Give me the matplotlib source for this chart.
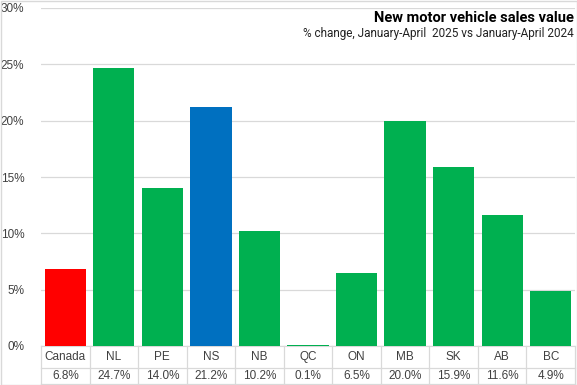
import matplotlib.pyplot as plt
from matplotlib.patches import Rectangle
from matplotlib.ticker import PercentFormatter

regions = ['Canada', 'NL', 'PE', 'NS', 'NB', 'QC', 'ON', 'MB', 'SK', 'AB', 'BC']
change = [6.8, 24.7, 14.0, 21.2, 10.2, 0.1, 6.5, 20.0, 15.9, 11.6, 4.9]
colors = ['#ff0000', '#00b050', '#00b050', '#0070c0', '#00b050', '#00b050',
          '#00b050', '#00b050', '#00b050', '#00b050', '#00b050']

plt.rcParams['font.family'] = ['Liberation Sans', 'DejaVu Sans']

fig = plt.figure(figsize=(5.77, 3.85), dpi=100)
W, H = 577, 385
ax = fig.add_axes([41 / W, (385 - 346) / H, (575 - 41) / W, (346 - 8) / H])

x = range(len(regions))
ax.bar(x, change, width=0.85, color=colors, zorder=3)

ax.set_xlim(-0.5, len(regions) - 0.5)
ax.set_ylim(0, 30)
ax.set_yticks(range(0, 31, 5))
ax.yaxis.set_major_formatter(PercentFormatter(decimals=0))
ax.tick_params(axis='y', length=0, pad=12, labelsize=8.5, labelcolor='#404040')
ax.set_xticks([])
ax.grid(axis='y', color='#d9d9d9', linewidth=0.9, zorder=0)
for s in ['left', 'right', 'top']:
    ax.spines[s].set_visible(False)
ax.spines['bottom'].set_color('#d9d9d9')
ax.spines['bottom'].set_zorder(1)

# data table under the axis
tr = ax.get_xaxis_transform()
row1 = -(368 - 346) / 338
row2 = -(384 - 346) / 338
line_kw = dict(color='#d9d9d9', linewidth=0.9, transform=tr, clip_on=False)
for i in range(len(regions) + 1):
    ax.plot([i - 0.5, i - 0.5], [0, row2], **line_kw)
ax.plot([-0.5, len(regions) - 0.5], [row1, row1], **line_kw)
ax.plot([-0.5, len(regions) - 0.5], [row2, row2], **line_kw)
for i, (r, v) in enumerate(zip(regions, change)):
    ax.text(i, row1 / 2, r, transform=tr, ha='center', va='center',
            fontsize=8.5, color='#404040')
    ax.text(i, (row1 + row2) / 2, f'{v:.1f}%', transform=tr, ha='center',
            va='center', fontsize=8.5, color='#404040')

fig.text(574 / W, 1 - 18 / H, 'New motor vehicle sales value', ha='right',
         va='center', fontsize=10.5, fontweight='bold', color='black',
         family=['Roboto', 'DejaVu Sans'])
fig.text(574 / W, 1 - 33 / H, '% change, January-April  2025 vs January-April 2024',
         ha='right', va='center', fontsize=8.5, color='#222222',
         family=['Roboto', 'DejaVu Sans'])

fig.patches.append(Rectangle((0.5 / W, 0.5 / H), 1 - 1 / W, 1 - 1 / H,
                             transform=fig.transFigure, fill=False,
                             edgecolor='#d9d9d9', linewidth=1))

fig.savefig('out.png', dpi=100)
